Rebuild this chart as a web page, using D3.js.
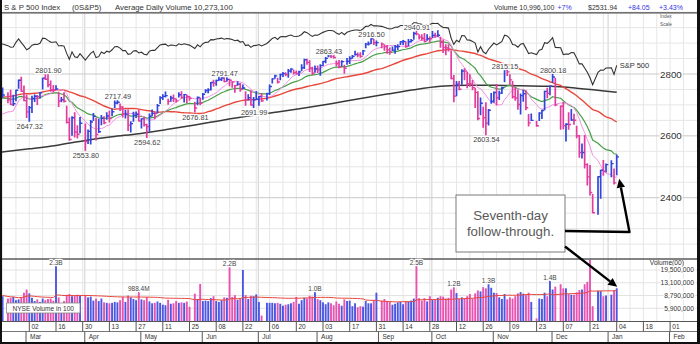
<!DOCTYPE html>
<html>
<head>
<meta charset="utf-8">
<script src="https://cdn.jsdelivr.net/npm/d3@7"></script>
<style>
  html, body { margin: 0; padding: 0; background: #fff; }
  svg { display: block; font-family: "Liberation Sans", Arial, sans-serif; }
</style>
</head>
<body>
<svg id="chart" width="700" height="344"></svg>
<script>
// ---------------------------------------------------------------------------
// S&P 500 daily bars, Feb 15 2018 – Jan 4 2019
// ---------------------------------------------------------------------------
const sessions = [
  "2018-02-15","2018-02-16","2018-02-20","2018-02-21","2018-02-22","2018-02-23","2018-02-26","2018-02-27","2018-02-28",
  "2018-03-01","2018-03-02","2018-03-05","2018-03-06","2018-03-07","2018-03-08","2018-03-09","2018-03-12","2018-03-13","2018-03-14","2018-03-15","2018-03-16","2018-03-19","2018-03-20","2018-03-21","2018-03-22","2018-03-23","2018-03-26","2018-03-27","2018-03-28","2018-03-29",
  "2018-04-02","2018-04-03","2018-04-04","2018-04-05","2018-04-06","2018-04-09","2018-04-10","2018-04-11","2018-04-12","2018-04-13","2018-04-16","2018-04-17","2018-04-18","2018-04-19","2018-04-20","2018-04-23","2018-04-24","2018-04-25","2018-04-26","2018-04-27","2018-04-30",
  "2018-05-01","2018-05-02","2018-05-03","2018-05-04","2018-05-07","2018-05-08","2018-05-09","2018-05-10","2018-05-11","2018-05-14","2018-05-15","2018-05-16","2018-05-17","2018-05-18","2018-05-21","2018-05-22","2018-05-23","2018-05-24","2018-05-25","2018-05-29","2018-05-30","2018-05-31",
  "2018-06-01","2018-06-04","2018-06-05","2018-06-06","2018-06-07","2018-06-08","2018-06-11","2018-06-12","2018-06-13","2018-06-14","2018-06-15","2018-06-18","2018-06-19","2018-06-20","2018-06-21","2018-06-22","2018-06-25","2018-06-26","2018-06-27","2018-06-28","2018-06-29",
  "2018-07-02","2018-07-03","2018-07-05","2018-07-06","2018-07-09","2018-07-10","2018-07-11","2018-07-12","2018-07-13","2018-07-16","2018-07-17","2018-07-18","2018-07-19","2018-07-20","2018-07-23","2018-07-24","2018-07-25","2018-07-26","2018-07-27","2018-07-30","2018-07-31",
  "2018-08-01","2018-08-02","2018-08-03","2018-08-06","2018-08-07","2018-08-08","2018-08-09","2018-08-10","2018-08-13","2018-08-14","2018-08-15","2018-08-16","2018-08-17","2018-08-20","2018-08-21","2018-08-22","2018-08-23","2018-08-24","2018-08-27","2018-08-28","2018-08-29","2018-08-30","2018-08-31",
  "2018-09-04","2018-09-05","2018-09-06","2018-09-07","2018-09-10","2018-09-11","2018-09-12","2018-09-13","2018-09-14","2018-09-17","2018-09-18","2018-09-19","2018-09-20","2018-09-21","2018-09-24","2018-09-25","2018-09-26","2018-09-27","2018-09-28",
  "2018-10-01","2018-10-02","2018-10-03","2018-10-04","2018-10-05","2018-10-08","2018-10-09","2018-10-10","2018-10-11","2018-10-12","2018-10-15","2018-10-16","2018-10-17","2018-10-18","2018-10-19","2018-10-22","2018-10-23","2018-10-24","2018-10-25","2018-10-26","2018-10-29","2018-10-30","2018-10-31",
  "2018-11-01","2018-11-02","2018-11-05","2018-11-06","2018-11-07","2018-11-08","2018-11-09","2018-11-12","2018-11-13","2018-11-14","2018-11-15","2018-11-16","2018-11-19","2018-11-20","2018-11-21","2018-11-23","2018-11-26","2018-11-27","2018-11-28","2018-11-29","2018-11-30",
  "2018-12-03","2018-12-04","2018-12-06","2018-12-07","2018-12-10","2018-12-11","2018-12-12","2018-12-13","2018-12-14","2018-12-17","2018-12-18","2018-12-19","2018-12-20","2018-12-21","2018-12-24","2018-12-26","2018-12-27","2018-12-28","2018-12-31",
  "2019-01-02","2019-01-03","2019-01-04"
];

const highs = [
  2731.51,2754.42,2739.14,2747.75,2731.26,2747.76,2780.64,2789.15,2761.52,
  2730.89,2694.97,2728.09,2732.08,2730.60,2740.45,2786.57,2797.77,2801.90,2777.11,2763.03,2761.85,2741.38,2724.22,2739.14,2695.68,2657.67,2661.36,2674.78,2632.65,2659.07,
  2638.30,2619.14,2649.86,2672.08,2656.88,2653.55,2665.45,2661.43,2674.72,2680.26,2686.49,2713.34,2717.49,2702.84,2693.94,2682.86,2683.55,2645.30,2676.48,2677.35,2682.92,
  2655.27,2660.87,2637.14,2670.93,2683.35,2676.34,2701.27,2726.11,2732.86,2742.10,2718.59,2727.76,2731.96,2719.50,2739.19,2742.24,2733.33,2731.97,2727.36,2708.54,2725.83,2722.50,
  2736.93,2749.16,2752.61,2772.39,2779.90,2779.39,2790.21,2789.80,2791.47,2789.06,2782.81,2774.99,2763.07,2774.86,2769.28,2764.17,2742.94,2732.91,2746.09,2724.34,2743.26,
  2727.26,2736.58,2737.83,2764.41,2784.65,2795.58,2785.91,2799.22,2804.53,2803.91,2814.19,2816.76,2812.05,2809.37,2808.61,2829.99,2848.03,2848.04,2843.17,2821.74,2825.83,
  2825.58,2829.91,2840.38,2853.29,2863.43,2862.44,2862.48,2842.20,2843.40,2843.11,2827.95,2850.49,2855.63,2859.76,2873.23,2867.54,2868.78,2876.16,2898.25,2903.77,2916.50,2912.46,2906.32,
  2900.18,2894.21,2892.05,2883.81,2886.93,2892.52,2894.65,2903.90,2908.30,2904.65,2911.17,2911.79,2934.80,2940.91,2927.22,2927.11,2931.15,2927.22,2919.73,
  2937.06,2931.42,2939.86,2918.54,2909.64,2894.83,2894.70,2874.02,2795.14,2775.77,2775.99,2813.46,2816.94,2806.04,2797.77,2778.94,2753.59,2742.59,2722.70,2692.38,2706.85,2685.43,2736.69,
  2741.67,2766.28,2744.45,2756.82,2815.15,2814.75,2797.59,2775.99,2754.60,2746.80,2735.38,2746.75,2746.00,2669.44,2670.73,2647.55,2674.35,2682.53,2744.00,2753.75,2760.88,
  2800.18,2785.93,2696.15,2708.54,2639.27,2674.35,2685.44,2670.19,2630.74,2601.13,2573.99,2600.95,2509.63,2504.41,2410.34,2467.76,2489.10,2520.27,2509.24,
  2519.49,2493.14,2538.07
];

const lows = [
  2689.82,2725.11,2706.76,2701.29,2697.77,2713.74,2753.78,2744.22,2713.54,
  2659.65,2647.32,2675.75,2711.26,2701.74,2722.65,2751.54,2782.02,2758.68,2744.38,2741.47,2749.97,2694.59,2710.05,2709.79,2641.59,2585.89,2601.81,2596.12,2593.06,2609.72,
  2553.80,2574.99,2573.61,2649.58,2586.27,2610.79,2635.78,2639.25,2653.83,2645.05,2665.16,2692.05,2703.63,2681.90,2660.61,2657.99,2617.32,2612.67,2647.16,2659.01,2648.04,
  2625.41,2631.70,2594.62,2615.32,2664.70,2655.20,2674.14,2704.54,2717.45,2725.47,2701.91,2712.17,2711.36,2709.18,2725.70,2721.88,2709.54,2707.38,2714.99,2676.81,2700.68,2700.68,
  2718.70,2740.54,2739.51,2748.46,2760.16,2763.59,2780.17,2778.78,2774.65,2776.52,2761.73,2757.12,2740.79,2763.91,2744.39,2752.68,2698.67,2715.60,2699.38,2691.99,2718.03,
  2698.95,2711.16,2716.02,2733.52,2770.73,2786.24,2770.77,2781.53,2791.69,2793.95,2789.24,2805.89,2799.77,2800.01,2795.14,2811.12,2817.73,2831.44,2808.34,2798.11,2805.85,
  2804.53,2796.34,2827.37,2835.98,2855.92,2853.09,2851.98,2825.81,2819.88,2826.58,2802.49,2831.44,2833.73,2850.62,2861.32,2856.05,2854.03,2862.35,2884.69,2893.50,2898.40,2895.22,2891.73,
  2885.13,2876.92,2867.29,2864.12,2875.94,2866.78,2879.20,2895.20,2895.77,2886.16,2890.43,2903.28,2912.63,2927.11,2912.92,2909.27,2903.28,2909.27,2903.82,
  2917.91,2919.37,2921.36,2886.16,2869.29,2862.08,2874.27,2784.86,2710.51,2729.44,2749.03,2766.91,2781.81,2755.18,2760.27,2749.22,2691.43,2651.89,2667.84,2628.16,2603.54,2635.34,2705.60,
  2708.85,2699.96,2717.94,2737.08,2774.87,2794.99,2766.98,2722.00,2714.98,2685.75,2670.75,2712.16,2684.38,2631.52,2649.82,2631.09,2649.97,2655.89,2684.38,2722.94,2732.76,
  2773.38,2697.18,2621.53,2623.14,2583.23,2621.30,2650.26,2637.27,2593.84,2530.54,2528.71,2496.02,2441.18,2408.55,2351.10,2346.58,2397.94,2472.89,2482.82,
  2467.47,2443.96,2474.33
];

const closes = [
  2731.20,2732.22,2716.26,2701.33,2703.96,2747.30,2779.60,2744.28,2713.83,
  2677.67,2691.25,2720.94,2728.12,2726.80,2738.97,2786.57,2783.02,2765.31,2749.48,2747.33,2752.01,2712.92,2716.94,2711.93,2643.69,2588.26,2658.55,2612.62,2605.00,2640.87,
  2581.88,2614.45,2644.69,2662.84,2604.47,2613.16,2656.87,2642.19,2663.99,2656.30,2677.84,2706.39,2708.64,2693.13,2670.14,2670.29,2634.56,2639.40,2666.94,2669.91,2648.05,
  2654.80,2635.67,2629.73,2663.42,2672.63,2671.92,2697.79,2723.07,2727.72,2730.13,2711.45,2722.46,2720.13,2712.97,2733.01,2724.44,2733.29,2727.76,2721.33,2689.86,2724.01,2705.27,
  2734.62,2746.87,2748.80,2772.35,2770.37,2779.03,2782.00,2786.85,2775.63,2782.49,2779.66,2773.75,2762.59,2767.32,2749.76,2754.88,2717.07,2723.06,2699.63,2716.31,2718.37,
  2726.71,2713.22,2736.61,2759.82,2784.17,2793.84,2774.02,2798.29,2801.31,2798.43,2809.55,2815.62,2804.49,2801.83,2806.98,2820.40,2846.07,2837.44,2818.82,2802.60,2816.29,
  2813.36,2827.22,2840.35,2850.40,2858.45,2857.70,2853.58,2833.28,2821.93,2839.96,2818.37,2840.69,2850.13,2857.05,2862.96,2861.82,2856.98,2874.69,2896.74,2897.52,2914.04,2901.13,2901.52,
  2896.72,2888.60,2878.05,2871.68,2877.13,2887.89,2888.92,2904.18,2904.98,2888.80,2904.31,2907.95,2930.75,2929.67,2919.37,2915.56,2905.97,2914.00,2913.98,
  2924.59,2923.43,2925.51,2901.61,2885.57,2884.43,2880.34,2785.68,2728.37,2767.13,2750.79,2809.92,2809.21,2768.78,2767.78,2755.88,2740.69,2656.10,2705.57,2658.69,2641.25,2682.63,2711.74,
  2740.37,2723.06,2738.31,2755.45,2813.89,2806.83,2781.01,2726.22,2722.18,2701.58,2730.20,2736.27,2690.73,2641.89,2649.93,2632.56,2673.45,2682.17,2743.79,2737.80,2760.17,
  2790.37,2700.06,2695.95,2633.08,2637.72,2636.78,2651.07,2650.54,2599.95,2545.94,2546.16,2506.96,2467.42,2416.62,2351.10,2467.70,2488.83,2485.74,2506.85,
  2510.03,2447.89,2531.94
];

// NYSE volume, millions of shares
const volumes = [
  900,860,800,820,840,760,780,840,960,
  1060,940,820,740,780,720,800,760,790,800,750,2300,830,690,740,900,920,860,870,900,880,
  890,830,850,750,800,740,800,710,700,690,700,720,710,760,840,720,880,830,790,760,988.4,
  780,760,840,730,690,700,730,700,660,650,770,680,690,740,700,710,700,730,620,930,790,1260,
  740,750,740,810,860,740,720,760,830,820,2200,840,890,770,800,1950,890,790,870,860,910,
  720,470,700,700,700,690,700,680,640,660,670,690,720,840,680,760,820,800,870,850,1000,
  790,760,710,670,710,690,650,730,680,640,780,740,750,630,690,610,630,620,740,690,690,760,960,
  750,790,740,720,660,680,710,720,670,740,730,750,800,2500,810,750,810,730,860,
  770,770,820,860,850,800,820,1060,1160,950,790,830,810,860,920,800,940,1030,1000,1140,1100,1300,1120,
  960,950,830,790,920,780,830,800,860,940,980,930,890,960,720,430,800,790,960,860,1400,
  1060,1160,1250,1100,1100,920,900,900,970,1040,1060,1250,1350,3800,630,1020,1010,860,880,
  900,1030,1099.61
];

// closes before the first bar, used only to seed the moving averages
const priorCloses = [
  2601.42,2627.04,2626.07,2647.58,
  2642.22,2639.44,2629.57,2629.27,2636.98,2651.50,2659.99,2664.11,2662.85,2652.01,2675.81,2690.16,2681.47,2679.25,2684.57,2683.34,2680.50,2682.62,2687.54,2673.61,
  2695.81,2713.06,2723.99,2743.15,2747.71,2751.29,2748.23,2767.56,2786.24,2776.42,2802.56,2798.03,2810.30,2832.97,2839.13,2837.54,2839.25,2872.87,2853.53,2822.43,2823.81,
  2821.98,2762.13,2648.94,2695.14,2681.66,2581.00,2619.55,2656.00,2662.94,2698.63
];

// 200-day moving average, sampled every two weeks
const ma200Dates = ["2018-02-15","2018-03-02","2018-03-16","2018-04-02","2018-04-16","2018-04-30","2018-05-14","2018-05-29","2018-06-12","2018-06-26","2018-07-11","2018-07-25","2018-08-08","2018-08-22","2018-09-06","2018-09-20","2018-10-04","2018-10-18","2018-11-01","2018-11-15","2018-11-30","2018-12-14","2019-01-04"];
const ma200Values = [2547,2558,2569,2585,2597,2607,2620,2635,2650,2664,2677,2690,2704,2719,2735,2749,2760,2764,2764,2762,2760,2754,2741];

const highLabelDates = ["2018-03-13","2018-04-18","2018-06-13","2018-08-07","2018-08-29","2018-09-21","2018-11-07","2018-12-03"];
const lowLabelDates  = ["2018-03-02","2018-04-02","2018-05-03","2018-05-29","2018-06-28","2018-10-29"];
const volLabelDates  = ["2018-03-16","2018-04-30","2018-06-15","2018-07-31","2018-09-21","2018-10-11","2018-10-30","2018-11-30"];

const priceTicks = [2400, 2600, 2800];
const volTicks = [1950, 1310, 879, 590];      // millions of shares
const avgDailyVolume = 10273100;              // hundreds of shares

// ---------------------------------------------------------------------------
const svg = d3.select("#chart");
const W = 700, H = 344;
const L = 2, R = 697;
const priceTop = 13.5, priceBot = 258.5;
const volTop = 259.5, volBot = 321.5;
const rowMid = 331.5, rowBot = 342;

const BLUE = "#3145dd", PINK = "#e23c9e";
const VBLUE = "#4b57e2", VPINK = "#e653b0";

const parse = d3.utcParse("%Y-%m-%d"), fmt = d3.utcFormat("%Y-%m-%d");
const sessionIndex = new Map(sessions.map((d, i) => [d, i]));

// every weekday gets a slot on the time axis; market holidays stay empty
const slot = new Map();
{
  let k = 0;
  for (let t = parse("2018-02-01"); t < parse("2019-03-01"); t = d3.utcDay.offset(t, 1)) {
    const wd = t.getUTCDay();
    if (wd !== 0 && wd !== 6) slot.set(fmt(t), k++);
  }
}
const slotOf = d => slot.get(typeof d === "string" ? d : fmt(d));
function firstWeekday(d) {
  let t = d;
  while (!slot.has(fmt(t))) t = d3.utcDay.offset(t, 1);
  return slotOf(t);
}

const x = d3.scaleLinear()
  .domain([slotOf("2018-03-02"), slotOf("2019-01-04")])
  .range([29.3, 616.7]);
const xs = sessions.map(d => x(slotOf(d)));
const y = d3.scaleLinear().domain([2400, 2800]).range([197.7, 74]);
const yv = d3.scaleLog().domain([590, 1950]).range([308.3, 270]);
const yIdx = d3.scaleLinear().domain([2351.1, 2930.75]).range([84.7, 22.7]);

// moving averages
const allCloses = priorCloses.concat(closes);
const off = priorCloses.length;
function sma(n) {
  return closes.map((c, i) => d3.mean(allCloses.slice(Math.max(0, i + off - n + 1), i + off + 1)));
}
function ema(n) {
  const k = 2 / (n + 1);
  let e = d3.mean(allCloses.slice(0, n));
  const out = [];
  for (let j = n; j < allCloses.length; j++) {
    e = allCloses[j] * k + e * (1 - k);
    if (j >= off) out.push(e);
  }
  return out;
}
const ma10 = sma(10), ema21 = ema(21), ma50 = sma(50);
const volAvg = volumes.map((v, i) => d3.mean(volumes.slice(Math.max(0, i - 49), i + 1)));
const isUp = i => closes[i] >= (i === 0 ? priorCloses[priorCloses.length - 1] : closes[i - 1]);

// ---------------------------------------------------------------------------
const defs = svg.append("defs");
defs.append("clipPath").attr("id", "clipPrice")
  .append("rect").attr("x", L).attr("y", priceTop).attr("width", R - L).attr("height", priceBot - priceTop);
defs.append("clipPath").attr("id", "clipVol")
  .append("rect").attr("x", L).attr("y", volTop).attr("width", R - L).attr("height", volBot - volTop);

svg.append("rect").attr("width", W).attr("height", H).attr("fill", "#fff");

// --- grid ---
const grid = svg.append("g");
const fridays = d3.utcFriday.range(parse("2018-02-10"), parse("2019-02-12"));
const monthStarts = d3.utcMonth.range(parse("2018-03-01"), parse("2019-02-15"));
const monthX = d => x(firstWeekday(d)) - 0.6;
grid.selectAll(".vg").data(fridays).join("line")
  .attr("x1", d => x(slotOf(d))).attr("x2", d => x(slotOf(d)))
  .attr("y1", priceTop).attr("y2", volBot)
  .attr("stroke", "#e6e6e6").attr("stroke-width", 1);
grid.selectAll(".qg").data(monthStarts.filter(d => d.getUTCMonth() % 3 === 0)).join("line")
  .attr("x1", monthX).attr("x2", monthX)
  .attr("y1", priceTop).attr("y2", volBot)
  .attr("stroke", "#cfcfcf").attr("stroke-width", 1);
grid.selectAll(".hg").data(d3.range(2250, 3001, 50)).join("line")
  .attr("x1", L).attr("x2", R)
  .attr("y1", d => y(d)).attr("y2", d => y(d))
  .attr("stroke", d => priceTicks.includes(d) ? "#c9c9c9" : "#e6e6e6").attr("stroke-width", 1);
grid.selectAll(".vhg").data(volTicks).join("line")
  .attr("x1", L).attr("x2", R)
  .attr("y1", d => yv(d)).attr("y2", d => yv(d))
  .attr("stroke", "#e2e2e2").attr("stroke-width", 1);

// --- price pane ---
const pp = svg.append("g").attr("clip-path", "url(#clipPrice)");
const idx = d3.range(sessions.length);

pp.append("path")
  .attr("d", d3.line().curve(d3.curveMonotoneX)
    .x((d, i) => x(slotOf(ma200Dates[i]))).y(d => y(d))(ma200Values))
  .attr("fill", "none").attr("stroke", "#3a3a3a").attr("stroke-width", 1.5);

const maLine = arr => d3.line().x((d, i) => xs[i]).y(d => y(d))(arr);
pp.append("path").attr("d", maLine(ma50)).attr("fill", "none").attr("stroke", "#e8483c").attr("stroke-width", 1.4);
pp.append("path").attr("d", maLine(ema21)).attr("fill", "none").attr("stroke", "#47a047").attr("stroke-width", 1.2);
pp.append("path").attr("d", maLine(ma10)).attr("fill", "none").attr("stroke", "#f092e2").attr("stroke-width", 1);

const bars = pp.append("g");
bars.selectAll(".hl").data(idx).join("line")
  .attr("x1", i => xs[i]).attr("x2", i => xs[i])
  .attr("y1", i => y(highs[i]) - 0.5).attr("y2", i => y(lows[i]) + 0.5)
  .attr("stroke", i => isUp(i) ? BLUE : PINK).attr("stroke-width", 1.7);
bars.selectAll(".cl").data(idx).join("line")
  .attr("x1", i => xs[i]).attr("x2", i => xs[i] + 2.3)
  .attr("y1", i => y(closes[i])).attr("y2", i => y(closes[i]))
  .attr("stroke", i => isUp(i) ? BLUE : PINK).attr("stroke-width", 1.4);

// index overlay line
pp.append("path")
  .attr("d", d3.line().x((d, i) => xs[i]).y(d => yIdx(d))(closes))
  .attr("fill", "none").attr("stroke", "#333").attr("stroke-width", 1.1);

const last = sessions.length - 1;
const halo = sel => sel.attr("paint-order", "stroke").attr("stroke", "#fff")
  .attr("stroke-width", 2.5).attr("stroke-linejoin", "round");

svg.append("text").attr("x", xs[last] + 3).attr("y", yIdx(closes[last]) + 3)
  .attr("font-size", 7.5).attr("fill", "#333").text("S&P 500");

// high / low labels
const lab = svg.append("g").attr("font-size", 7.3).attr("fill", "#444").attr("text-anchor", "middle");
lab.selectAll(".hi").data(highLabelDates).join("text")
  .attr("x", d => xs[sessionIndex.get(d)] + 0.5).attr("y", d => y(highs[sessionIndex.get(d)]) - 0.5)
  .text(d => highs[sessionIndex.get(d)].toFixed(2)).call(halo);
lab.selectAll(".lo").data(lowLabelDates).join("text")
  .attr("x", d => xs[sessionIndex.get(d)] + 0.5).attr("y", d => y(lows[sessionIndex.get(d)]) + 7.6)
  .text(d => lows[sessionIndex.get(d)].toFixed(2)).call(halo);

// price axis labels
svg.append("g").selectAll("text").data(priceTicks).join("text")
  .attr("x", 660).attr("y", d => y(d) + 3.5).attr("font-size", 9.8).attr("fill", "#333")
  .text(d => d).call(halo);
svg.append("text").attr("x", 660).attr("y", 17.5).attr("font-size", 4.8).attr("fill", "#555").text("Index");
svg.append("text").attr("x", 660).attr("y", 25.5).attr("font-size", 4.8).attr("fill", "#555").text("Scale");

// --- volume pane ---
const vp = svg.append("g").attr("clip-path", "url(#clipVol)");
vp.selectAll(".vb").data(idx).join("rect")
  .attr("x", i => xs[i] - 0.95).attr("width", 1.9)
  .attr("y", i => yv(volumes[i])).attr("height", i => volBot - yv(volumes[i]))
  .attr("fill", i => isUp(i) ? VBLUE : VPINK);
vp.append("path")
  .attr("d", d3.line().x((d, i) => xs[i]).y(d => yv(d))(volAvg))
  .attr("fill", "none").attr("stroke", "#e8483c").attr("stroke-width", 1);

// pane separators
svg.append("line").attr("x1", L).attr("x2", R).attr("y1", 12.8).attr("y2", 12.8).attr("stroke", "#4a4a4a").attr("stroke-width", 1.3);
svg.append("line").attr("x1", L).attr("x2", R).attr("y1", 259).attr("y2", 259).attr("stroke", "#5a5a5a").attr("stroke-width", 1.3);

const volFmt = v => v >= 1000 ? (v / 1000).toFixed(1) + "B" : v.toFixed(1) + "M";
svg.append("g").attr("font-size", 6.5).attr("fill", "#444").attr("text-anchor", "middle")
  .selectAll("text").data(volLabelDates).join("text")
  .attr("x", d => xs[sessionIndex.get(d)]).attr("y", d => Math.max(265, yv(volumes[sessionIndex.get(d)]) - 0.3))
  .text(d => volFmt(volumes[sessionIndex.get(d)])).call(halo);

const vax = svg.append("g").attr("font-size", 6.7).attr("fill", "#333").attr("text-anchor", "end");
vax.append("text").attr("x", 684).attr("y", 264.5).text("Volume(00)");
vax.selectAll(".vt").data(volTicks).join("text")
  .attr("x", 694).attr("y", d => yv(d) + 2.3)
  .text(d => d3.format(",")(d * 1e4)).call(halo);

const nb = svg.append("g");
nb.append("rect").attr("x", 6.5).attr("y", 303).attr("width", 73.5).attr("height", 10)
  .attr("fill", "#fff").attr("stroke", "#8a8a8a").attr("stroke-width", 0.8);
nb.append("text").attr("x", 43.2).attr("y", 310.6).attr("font-size", 6.6).attr("fill", "#333")
  .attr("text-anchor", "middle").text("NYSE Volume in 100");

// --- date axis ---
const ax = svg.append("g");
ax.append("rect").attr("x", L).attr("y", volBot).attr("width", R - L).attr("height", rowBot - volBot).attr("fill", "#fff");
ax.append("line").attr("x1", L).attr("x2", R).attr("y1", volBot).attr("y2", volBot).attr("stroke", "#555").attr("stroke-width", 1.2);
ax.append("line").attr("x1", L).attr("x2", R).attr("y1", rowMid).attr("y2", rowMid).attr("stroke", "#777").attr("stroke-width", 1);
const firstTick = parse("2018-03-02");
const biweekly = fridays.filter(d => d >= firstTick && Math.round((d - firstTick) / 864e5) % 14 === 0);
ax.selectAll(".dt").data(biweekly).join("line")
  .attr("x1", d => x(slotOf(d))).attr("x2", d => x(slotOf(d)))
  .attr("y1", volBot).attr("y2", rowMid).attr("stroke", "#555").attr("stroke-width", 1);
ax.selectAll(".dl").data(biweekly).join("text")
  .attr("x", d => x(slotOf(d)) + 2.2).attr("y", 328.8)
  .attr("font-size", 6.5).attr("fill", "#333").text(d3.utcFormat("%d"));
ax.selectAll(".mt").data(monthStarts).join("line")
  .attr("x1", monthX).attr("x2", monthX)
  .attr("y1", rowMid).attr("y2", rowBot).attr("stroke", "#555").attr("stroke-width", 1);
ax.selectAll(".ml").data(monthStarts).join("text")
  .attr("x", d => monthX(d) + 4).attr("y", 339.2)
  .attr("font-size", 6.5).attr("fill", "#333").text(d3.utcFormat("%b"));

// --- header ---
const chg = closes[last] - closes[last - 1];
const comma = d3.format(",");
const hl = svg.append("g").attr("font-size", 7.8).attr("fill", "#333");
hl.append("text").attr("x", 4).attr("y", 9.5).text("S & P 500 Index");
hl.append("text").attr("x", 72).attr("y", 9.5).text("(0S&P5)");
hl.append("text").attr("x", 115).attr("y", 9.5).text("Average Daily Volume " + comma(avgDailyVolume));
const hr = svg.append("g").attr("font-size", 7).attr("fill", "#333");
hr.append("text").attr("x", 494).attr("y", 9.5).text("Volume " + comma(Math.round(volumes[last] * 1e4)));
hr.append("text").attr("x", 557.5).attr("y", 9.5).attr("fill", "#3434e6")
  .text("+" + Math.round((volumes[last] * 1e4 / avgDailyVolume - 1) * 100) + "%");
hr.append("text").attr("x", 588).attr("y", 9.5).text("$" + closes[last].toFixed(2));
hr.append("text").attr("x", 628).attr("y", 9.5).attr("fill", "#3434e6").text("+" + chg.toFixed(2));
hr.append("text").attr("x", 659).attr("y", 9.5).attr("fill", "#3434e6")
  .text("+" + (chg / closes[last - 1] * 100).toFixed(2) + "%");

// --- annotation ---
const note = svg.append("g");
note.append("rect").attr("x", 456).attr("y", 195).attr("width", 109).attr("height", 57)
  .attr("fill", "#fff").attr("stroke", "#7a7a7a").attr("stroke-width", 1);
note.append("text").attr("x", 510.5).attr("y", 219.5).attr("text-anchor", "middle")
  .attr("font-size", 13.3).attr("fill", "#5a5a5a").text("Seventh-day");
note.append("text").attr("x", 510.5).attr("y", 235.5).attr("text-anchor", "middle")
  .attr("font-size", 13.3).attr("fill", "#5a5a5a").text("follow-through.");

function arrow(points) {
  const n = points.length;
  const [x1, y1] = points[n - 2], [x2, y2] = points[n - 1];
  const a = Math.atan2(y2 - y1, x2 - x1), len = 9, hw = 4.2;
  const bx = x2 - len * Math.cos(a), by = y2 - len * Math.sin(a);
  const pts = points.slice(0, n - 1).concat([[bx, by]]);
  note.append("path").attr("d", d3.line()(pts)).attr("fill", "none")
    .attr("stroke", "#000").attr("stroke-width", 2.4).attr("stroke-linejoin", "round");
  note.append("path").attr("d", d3.line()([[x2, y2],
      [bx + hw * Math.sin(a), by - hw * Math.cos(a)],
      [bx - hw * Math.sin(a), by + hw * Math.cos(a)]]) + "Z")
    .attr("fill", "#000");
}
arrow([[565, 231], [629.5, 232], [xs[last] + 2.5, y(lows[last]) + 4]]);
arrow([[565, 246.5], [xs[last] + 0.5, yv(volumes[last]) - 1.5]]);

// --- frame ---
svg.append("rect").attr("x", 0).attr("y", 0).attr("width", 2).attr("height", H).attr("fill", "#111");
svg.append("rect").attr("x", R).attr("y", 0).attr("width", W - R).attr("height", H).attr("fill", "#111");
svg.append("rect").attr("x", 0).attr("y", rowBot).attr("width", W).attr("height", H - rowBot).attr("fill", "#111");
</script>
</body>
</html>
